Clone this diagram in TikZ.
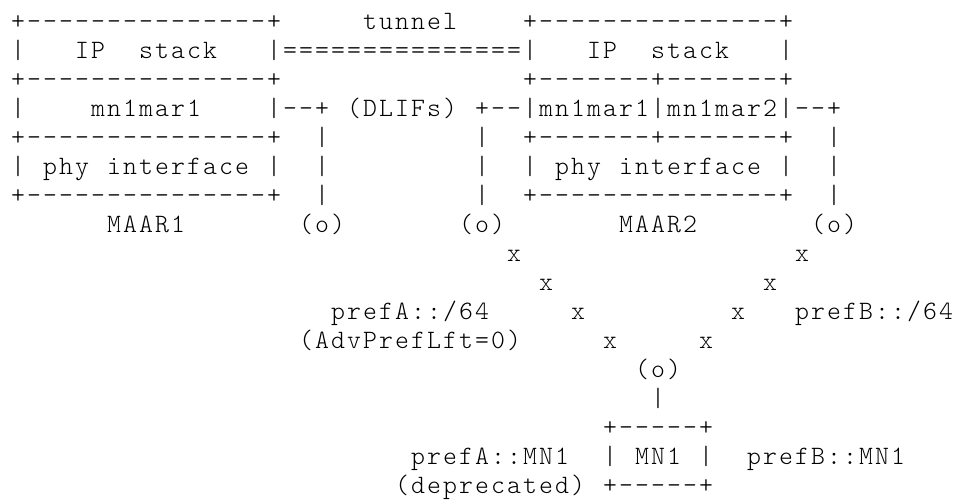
\documentclass[tikz,border=0pt]{standalone}
\usepackage{fontspec}
\newfontfamily\asciifont{Latin Modern Mono Light}
\tikzset{txt/.style={anchor=base west,inner sep=0pt,outer sep=0pt,
  font=\asciifont\fontsize{26.5}{29}\selectfont,text=black}}
% every character in its own 16pt cell, as in a fixed-pitch listing
\def\monoloop#1{\ifx#1\relax\else\makebox[16pt]{#1}\expandafter\monoloop\fi}
\newcommand\mono[1]{\monoloop#1\relax}
\newcommand\putc[4]{\node[txt] (#3) at ({10+16*#1},{-29.6-29*(#2-1)}) {\mono{#4}};}
\begin{document}
\begin{tikzpicture}[x=1pt,y=1pt]
\fill[white] (0,0) rectangle (954,-499);
\useasboundingbox (0,0) rectangle (954,-499);
% line 1
\putc{0}{1}{aTop}{+---------------+}
\putc{22}{1}{tunnel}{tunnel}
\putc{32}{1}{bTop}{+---------------+}
% line 2
\putc{0}{2}{aL2}{|}
\putc{4}{2}{aIP}{IP}
\putc{8}{2}{aStack}{stack}
\putc{16}{2}{tun}{|===============|}
\putc{36}{2}{bIP}{IP}
\putc{40}{2}{bStack}{stack}
\putc{48}{2}{bR2}{|}
% line 3
\putc{0}{3}{aMid}{+---------------+}
\putc{32}{3}{bMid}{+-------+-------+}
% line 4
\putc{0}{4}{aL4}{|}
\putc{5}{4}{aMn}{mn1mar1}
\putc{16}{4}{aLink}{|--+}
\putc{21}{4}{dlifs}{(DLIFs)}
\putc{29}{4}{bLink}{+--|mn1mar1|mn1mar2|--+}
% line 5
\putc{0}{5}{aLow}{+---------------+}
\putc{19}{5}{v1a}{|}
\putc{29}{5}{v2a}{|}
\putc{32}{5}{bLow}{+-------+-------+}
\putc{51}{5}{v3a}{|}
% line 6
\putc{0}{6}{aL6}{|}
\putc{2}{6}{aPhy}{phy}
\putc{6}{6}{aIf}{interface}
\putc{16}{6}{aR6}{|}
\putc{19}{6}{v1b}{|}
\putc{29}{6}{v2b}{|}
\putc{32}{6}{bL6}{|}
\putc{34}{6}{bPhy}{phy}
\putc{38}{6}{bIf}{interface}
\putc{48}{6}{bR6}{|}
\putc{51}{6}{v3b}{|}
% line 7
\putc{0}{7}{aBot}{+---------------+}
\putc{19}{7}{v1c}{|}
\putc{29}{7}{v2c}{|}
\putc{32}{7}{bBot}{+---------------+}
\putc{51}{7}{v3c}{|}
% line 8
\putc{6}{8}{maar1}{MAAR1}
\putc{18}{8}{ant1}{(o)}
\putc{28}{8}{ant2}{(o)}
\putc{38}{8}{maar2}{MAAR2}
\putc{50}{8}{ant3}{(o)}
% lines 9-12
\putc{31}{9}{xa1}{x}
\putc{49}{9}{xb1}{x}
\putc{33}{10}{xa2}{x}
\putc{47}{10}{xb2}{x}
\putc{20}{11}{prefA}{prefA::/64}
\putc{35}{11}{xa3}{x}
\putc{45}{11}{xb3}{x}
\putc{49}{11}{prefB}{prefB::/64}
\putc{18}{12}{adv}{(AdvPrefLft=0)}
\putc{37}{12}{xa4}{x}
\putc{43}{12}{xb4}{x}
% lines 13-17
\putc{39}{13}{ant4}{(o)}
\putc{40}{14}{v4}{|}
\putc{37}{15}{mnTop}{+-----+}
\putc{25}{16}{prefAmn}{prefA::MN1}
\putc{37}{16}{mnL}{|}
\putc{39}{16}{mn1}{MN1}
\putc{43}{16}{mnR}{|}
\putc{46}{16}{prefBmn}{prefB::MN1}
\putc{24}{17}{depr}{(deprecated)}
\putc{37}{17}{mnBot}{+-----+}
\end{tikzpicture}
\end{document}
